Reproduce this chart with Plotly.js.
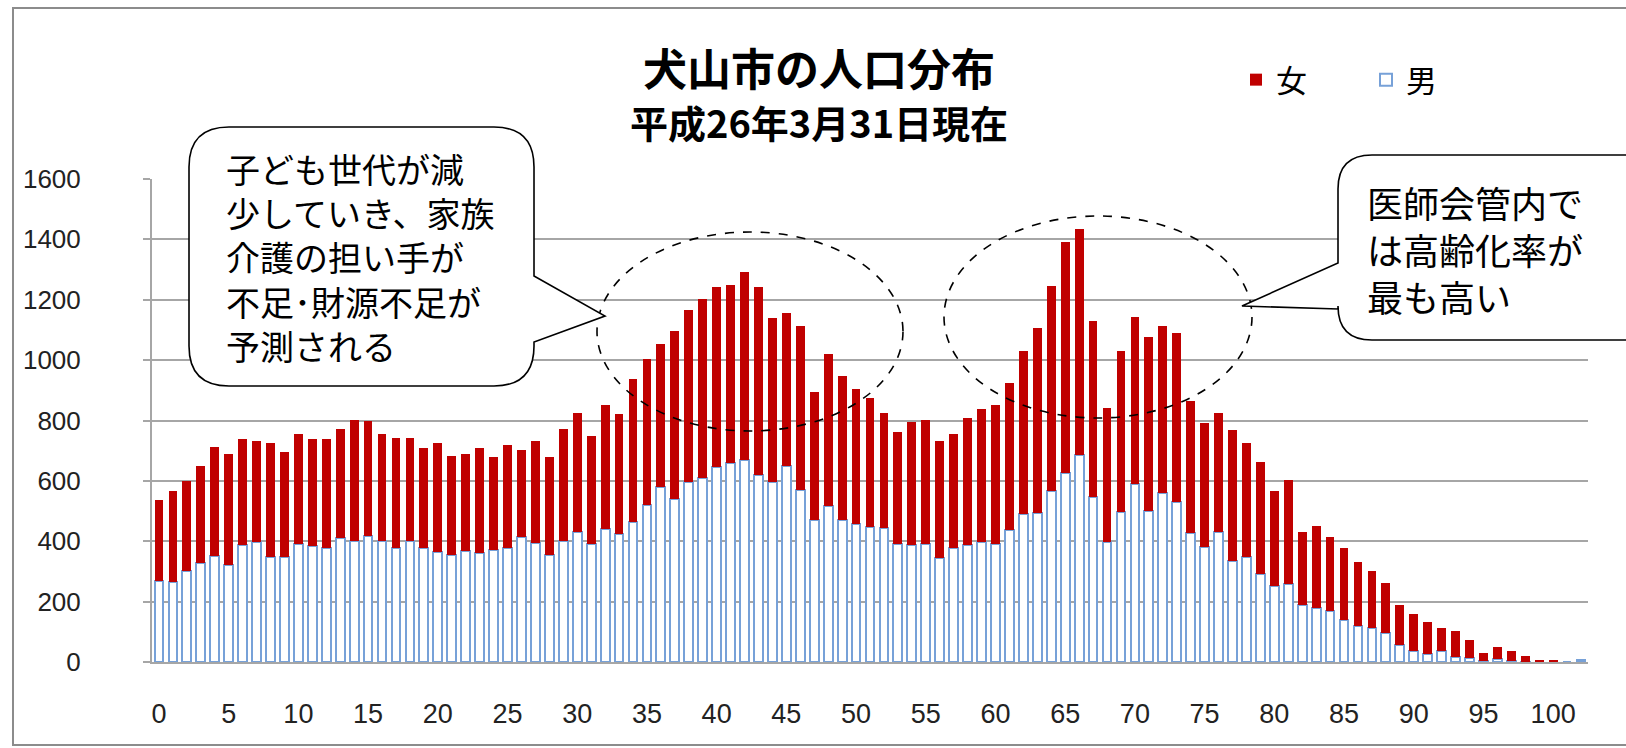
<!DOCTYPE html>
<html>
<head>
<meta charset="utf-8">
<script src="https://cdn.plot.ly/plotly-3.0.1.min.js"></script>
<style>html,body{margin:0;padding:0;background:#fff;}#chart{width:1626px;height:748px;}</style>
</head>
<body>
<div id="chart"></div>
<script>
// ---- data ----
const ages = [];
for (let a = 0; a <= 102; a++) ages.push(a);

const male = [269,266,303,328,351,322,387,397,349,349,
  390,383,377,411,402,419,402,377,402,377,
  366,354,369,360,371,377,414,394,354,401,
  430,391,439,423,463,521,579,539,596,609,
  647,660,669,621,596,648,569,472,516,472,
  456,448,444,391,386,391,344,377,386,397,
  390,436,489,494,568,625,687,547,399,497,
  591,501,561,529,427,381,432,334,348,293,
  253,257,188,180,168,139,118,114,97,56,
  38,27,36,17,13,3,10,2,1,0,
  0,0,5];

const female = [269,301,295,321,362,368,351,335,377,348,
  366,355,361,362,401,378,354,366,341,331,
  360,330,321,348,308,343,288,337,325,371,
  396,358,411,397,474,482,475,558,571,594,
  596,589,622,622,542,507,544,424,503,477,
  447,425,382,370,410,412,387,377,422,441,
  460,488,541,612,678,767,746,582,443,533,
  551,577,551,560,439,412,394,433,378,368,
  314,345,244,269,245,239,213,188,164,133,
  122,104,77,85,59,28,39,36,19,8,
  8,0,0];

const xTickVals = [0,5,10,15,20,25,30,35,40,45,50,55,60,65,70,75,80,85,90,95,100];
const xTickText = ['0','5','10','15','20','25','30','35','40','45','50','55','60','65','70','75','80','85','90','95','100'];
const yTickVals = [0,200,400,600,800,1000,1200,1400,1600];

const titleMain = '犬山市の人口分布';
const titleSub = '平成26年3月31日現在';
const seriesNames = ['男', '女'];
const noteLeft = ['子ども世代が減', '少していき、家族', '介護の担い手が', '不足･財源不足が', '予測される'];
const noteRight = ['医師会管内で', 'は高齢化率が', '最も高い'];

// ---- geometry helpers (pixel -> paper) ----
const W = 1626, H = 748;
const ML = 152, MR = 38, MT = 179, MB = 86;
const PW = W - ML - MR, PH = H - MT - MB;
const px = x => (x - ML) / PW;
const py = y => (MT + PH - y) / PH;
function pathFrom(cmds) {
  return cmds.map(c => {
    const k = c[0];
    if (k === 'Z') return 'Z';
    const pts = [];
    for (let i = 1; i < c.length; i += 2) pts.push(px(c[i]).toFixed(5) + ',' + py(c[i + 1]).toFixed(5));
    return k + pts.join(' ');
  }).join(' ');
}

const JP = '"Noto Sans CJK JP", "Noto Sans", sans-serif';
const NUM = '"Liberation Sans", Arial, sans-serif';

// left callout (rounded box with wedge pointing right)
const L = {x0: 189, y0: 127, x1: 534, y1: 386, r: 40};
const leftPath = pathFrom([
  ['M', L.x0 + L.r, L.y0], ['L', L.x1 - L.r, L.y0], ['Q', L.x1, L.y0, L.x1, L.y0 + L.r],
  ['L', L.x1, 276], ['L', 605, 316], ['L', L.x1, 342],
  ['L', L.x1, L.y1 - L.r], ['Q', L.x1, L.y1, L.x1 - L.r, L.y1],
  ['L', L.x0 + L.r, L.y1], ['Q', L.x0, L.y1, L.x0, L.y1 - L.r],
  ['L', L.x0, L.y0 + L.r], ['Q', L.x0, L.y0, L.x0 + L.r, L.y0], ['Z']
]);
// right callout (cut by the right edge, wedge pointing left)
const R = {x0: 1338, y0: 155, x1: 1700, y1: 340, r: 34};
const rightPath = pathFrom([
  ['M', R.x0 + R.r, R.y0], ['L', R.x1, R.y0], ['L', R.x1, R.y1],
  ['L', R.x0 + R.r, R.y1], ['Q', R.x0, R.y1, R.x0, R.y1 - R.r],
  ['L', R.x0, 309], ['L', 1242, 306], ['L', R.x0, 263],
  ['L', R.x0, R.y0 + R.r], ['Q', R.x0, R.y0, R.x0 + R.r, R.y0], ['Z']
]);

const shapes = [
  {type: 'rect', xref: 'paper', yref: 'paper', x0: px(13), x1: px(1660), y0: py(745), y1: py(8),
   line: {color: '#8c8c8c', width: 2}, fillcolor: 'rgba(0,0,0,0)', layer: 'below'},
  {type: 'circle', xref: 'paper', yref: 'paper', x0: px(597), x1: px(903), y0: py(431), y1: py(232),
   line: {color: '#000', width: 1.6, dash: 'dash'}},
  {type: 'circle', xref: 'paper', yref: 'paper', x0: px(944), x1: px(1252), y0: py(418), y1: py(216),
   line: {color: '#000', width: 1.6, dash: 'dash'}},
  {type: 'path', xref: 'paper', yref: 'paper', path: leftPath, fillcolor: '#fff', line: {color: '#000', width: 1.6}},
  {type: 'path', xref: 'paper', yref: 'paper', path: rightPath, fillcolor: '#fff', line: {color: '#000', width: 1.6}}
];

const annotations = [
  {xref: 'paper', yref: 'paper', x: px(819), y: py(121), xanchor: 'center', yanchor: 'middle',
   text: '<b>' + titleSub + '</b>', showarrow: false, font: {family: JP, size: 38, color: '#000'}},
  {xref: 'paper', yref: 'paper', x: px(224), y: py(257), xanchor: 'left', yanchor: 'middle', align: 'left',
   text: noteLeft.join('<br>'), showarrow: false, font: {family: JP, size: 34, color: '#000'}},
  {xref: 'paper', yref: 'paper', x: px(1365), y: py(249), xanchor: 'left', yanchor: 'middle', align: 'left',
   text: noteRight.join('<br>'), showarrow: false, font: {family: JP, size: 36, color: '#000'}}
];

const traces = [
  {type: 'bar', name: seriesNames[0], x: ages, y: male,
   marker: {color: '#ffffff', line: {color: '#77a1d8', width: 2}}, hoverinfo: 'x+y+name'},
  {type: 'bar', name: seriesNames[1], x: ages, y: female,
   marker: {color: '#c00000', line: {width: 0}}, hoverinfo: 'x+y+name'}
];

const layout = {
  width: W, height: H,
  margin: {l: ML, r: MR, t: MT, b: MB, pad: 0},
  paper_bgcolor: '#ffffff', plot_bgcolor: '#ffffff',
  barmode: 'stack', bargap: 0.37,
  font: {family: JP, color: '#000'},
  title: {
    text: '<b>' + titleMain + '</b>',
    font: {family: JP, size: 44, color: '#000'},
    x: 819 / W, xanchor: 'center', xref: 'container',
    y: 1 - 71 / H, yanchor: 'middle', yref: 'container'
  },
  xaxis: {
    type: 'linear', range: [-0.5, 102.5], tickmode: 'array', tickvals: xTickVals, ticktext: xTickText,
    showgrid: false, zeroline: false, showline: true, linecolor: '#a6a6a6', linewidth: 2,
    ticks: '', ticklabelstandoff: 27,
    tickfont: {family: NUM, size: 27, color: '#222'}
  },
  yaxis: {
    range: [0, 1600], tickmode: 'array', tickvals: yTickVals,
    showgrid: true, gridcolor: '#a6a6a6', gridwidth: 2, zeroline: false,
    showline: true, linecolor: '#a6a6a6', linewidth: 2,
    ticks: 'outside', ticklen: 7, tickwidth: 2, tickcolor: '#a6a6a6', ticklabelstandoff: 57,
    tickfont: {family: NUM, size: 26, color: '#222'}
  },
  showlegend: true,
  legend: {
    orientation: 'h', traceorder: 'reversed', x: px(1236), xanchor: 'left', y: py(80), yanchor: 'middle',
    font: {family: JP, size: 31, color: '#000'}, bgcolor: 'rgba(0,0,0,0)', itemwidth: 30,
    entrywidth: 85
  },
  shapes: shapes,
  annotations: annotations
};

Plotly.newPlot('chart', traces, layout, {displayModeBar: false, staticPlot: true});
</script>
</body>
</html>
